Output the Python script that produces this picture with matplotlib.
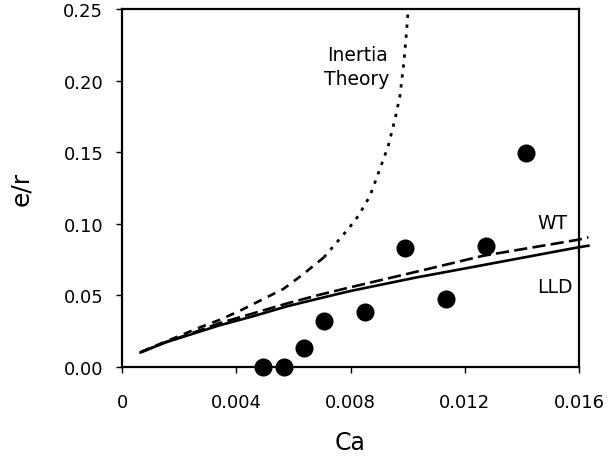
import matplotlib
matplotlib.use("Agg")
import matplotlib.pyplot as plt

# measured points (Ca, e/r)
ca_exp = [0.00495, 0.00566, 0.00637, 0.00706, 0.00851, 0.00991, 0.01133, 0.01276, 0.01414]
er_exp = [0.0, 0.0, 0.0133, 0.0321, 0.0384, 0.0829, 0.0475, 0.0845, 0.1492]

# LLD (solid)
ca_lld = [0.00065, 0.00150, 0.00226, 0.00340, 0.00460, 0.00580, 0.00693, 0.00798, 0.01030, 0.01265, 0.01598, 0.01633]
er_lld = [0.0102, 0.0170, 0.0218, 0.0290, 0.0355, 0.0425, 0.0480, 0.0530, 0.0625, 0.0712, 0.0836, 0.0847]

# WT (long dash)
ca_wt = [0.00065, 0.00150, 0.00226, 0.00340, 0.00460, 0.00580, 0.00693, 0.00798, 0.01030, 0.01265, 0.01598, 0.01633]
er_wt = [0.0102, 0.0172, 0.0223, 0.0305, 0.0375, 0.0445, 0.0505, 0.0556, 0.0665, 0.0777, 0.0889, 0.0906]

# inertia theory: lower (dashed) and upper (dotted) parts
ca_in_lo = [0.00068, 0.00150, 0.00273, 0.00343, 0.00413, 0.00495, 0.00565, 0.00635, 0.00707]
er_in_lo = [0.0107, 0.0175, 0.0277, 0.0330, 0.0393, 0.0475, 0.0545, 0.0649, 0.0766]
ca_in_hi = [0.00707, 0.00757, 0.00792, 0.00827, 0.00868, 0.00903, 0.00932, 0.00956, 0.00973, 0.00987, 0.00997, 0.01002]
er_in_hi = [0.0766, 0.0882, 0.0964, 0.1054, 0.1194, 0.1383, 0.1543, 0.1732, 0.1892, 0.2130, 0.2360, 0.2500]

x_ticks = [0, 0.004, 0.008, 0.012, 0.016]
x_labels = ["0", "0.004", "0.008", "0.012", "0.016"]
y_ticks = [0, 0.05, 0.10, 0.15, 0.20, 0.25]
y_labels = ["0.00", "0.05", "0.10", "0.15", "0.20", "0.25"]

fig = plt.figure(figsize=(6.08, 4.6), dpi=100)
ax = fig.add_axes([122 / 608, 1 - 368 / 460, 457 / 608, 358 / 460])

ax.plot(ca_lld, er_lld, color="black", lw=1.9, clip_on=False)
ax.plot(ca_wt, er_wt, color="black", lw=1.9, dashes=(5, 2), clip_on=False)
ax.plot(ca_in_lo, er_in_lo, color="black", lw=1.9, dashes=(3.2, 2.6))
ax.plot(ca_in_hi, er_in_hi, color="black", lw=2.0, dashes=(1.2, 2.4), clip_on=False)
ax.plot(ca_exp, er_exp, "o", color="black", ms=12, clip_on=False, zorder=5)

ax.text(0.00823, 0.210, "Inertia\nTheory", ha="center", va="center", fontsize=13.5, linespacing=1.3)
ax.text(0.01453, 0.1006, "WT", ha="left", va="center", fontsize=13.5)
ax.text(0.01453, 0.0559, "LLD", ha="left", va="center", fontsize=13.5)

ax.set_xlim(0, 0.016)
ax.set_ylim(0, 0.25)
ax.set_xticks(x_ticks)
ax.set_xticklabels(x_labels)
ax.set_yticks(y_ticks)
ax.set_yticklabels(y_labels)
ax.tick_params(direction="out", length=4.5, width=1, labelsize=13)
ax.tick_params(axis="x", pad=14)
ax.tick_params(axis="y", pad=9)
for s in ax.spines.values():
    s.set_linewidth(1.6)

ax.set_xlabel("Ca", fontsize=17, va="center")
ax.set_ylabel("e/r", fontsize=18, va="center")
ax.xaxis.set_label_coords(0.5, (368 - 443) / 358)
ax.yaxis.set_label_coords((21 - 122) / 457, 0.5)

fig.savefig("out.png", dpi=100)
